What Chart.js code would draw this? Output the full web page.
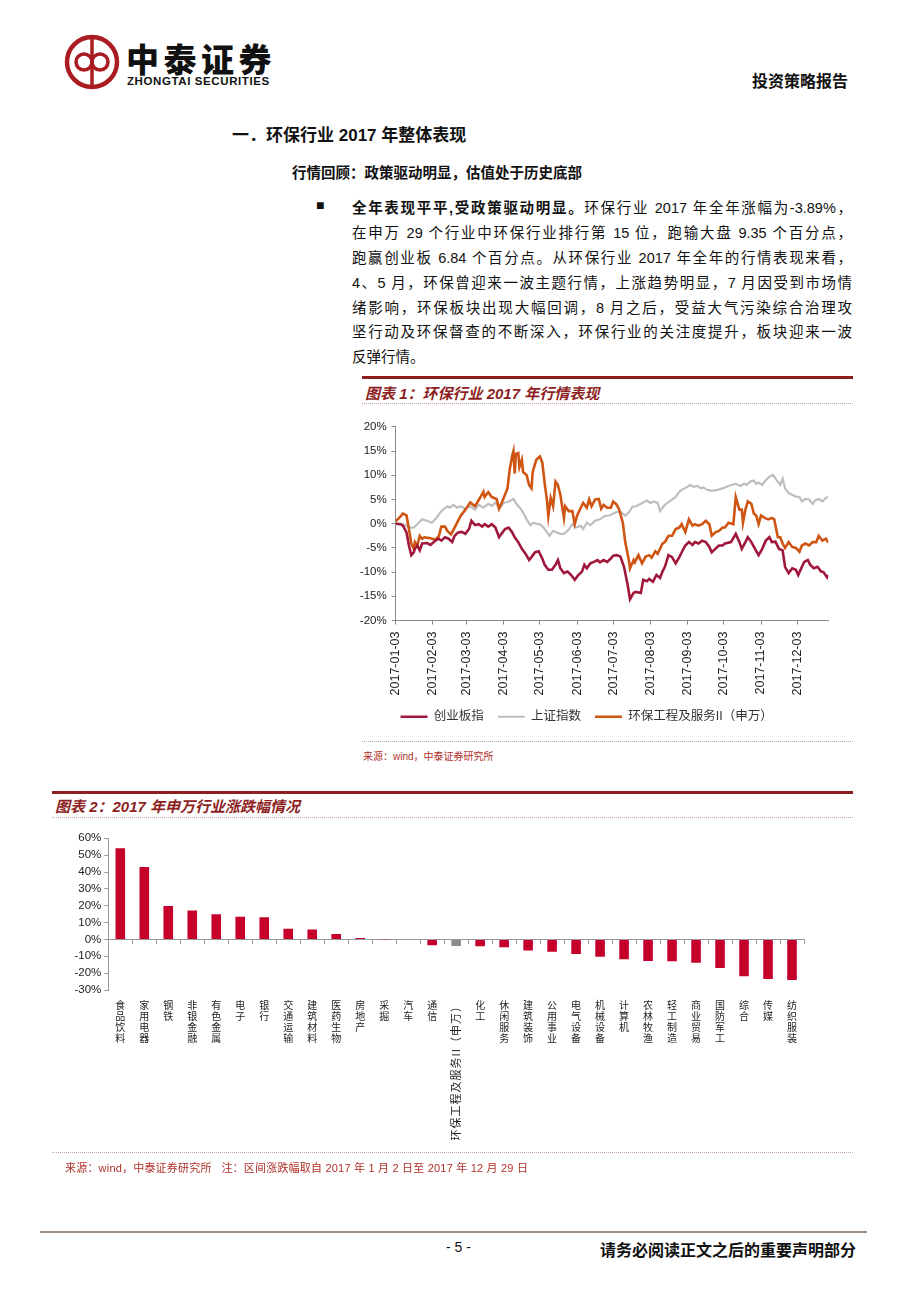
<!DOCTYPE html>
<html>
<head>
<meta charset="utf-8">
<script src="https://cdn.jsdelivr.net/npm/chart.js@4.4.1/dist/chart.umd.min.js"></script>
<style>
  html, body { margin: 0; padding: 0; background: #fff; }
  body { width: 920px; height: 1302px; position: relative; overflow: hidden;
         font-family: "Liberation Sans", "Noto Sans CJK SC", sans-serif; color: #111; }
  .abs { position: absolute; white-space: nowrap; }
  .rule { position: absolute; background: #8E1F1F; height: 2.5px; }
  .dots { position: absolute; border-top: 1px dotted #C9A3A3; height: 0; }
  .ctitle { position: absolute; font-size: 15px; font-weight: bold; font-style: italic; color: #8E1F1F; white-space: nowrap; }
  .src { position: absolute; font-size: 10px; color: #B0302A; white-space: nowrap; }
  .para { position: absolute; left: 352px; width: 500px; font-size: 14.5px; line-height: 20px;
          white-space: nowrap; text-align: justify; text-align-last: justify; }
  canvas { position: absolute; }
</style>
</head>
<body>

<!-- header -->
<svg class="abs" style="left:62px;top:32px" width="60" height="60" viewBox="0 0 60 60">
  <circle cx="30" cy="30" r="25" fill="none" stroke="#A81C22" stroke-width="4.5"/>
  <line x1="30" y1="7" x2="30" y2="53" stroke="#A81C22" stroke-width="3.5"/>
  <circle cx="22" cy="30" r="8" fill="none" stroke="#A81C22" stroke-width="3.5"/>
  <circle cx="38" cy="30" r="8" fill="none" stroke="#A81C22" stroke-width="3.5"/>
</svg>
<div class="abs" style="left:126px;top:34px;font-size:33px;font-weight:900;letter-spacing:4.5px;font-family:'Noto Sans CJK SC'">中泰证券</div>
<div class="abs" style="left:127px;top:75px;font-size:11.5px;font-weight:bold;letter-spacing:0.6px">ZHONGTAI SECURITIES</div>
<div class="abs" style="left:752px;top:68px;font-size:16px;font-weight:bold">投资策略报告</div>

<!-- section text -->
<div class="abs" style="left:232px;top:121px;font-size:17px;font-weight:bold">一．环保行业 2017 年整体表现</div>
<div class="abs" style="left:292px;top:161px;font-size:14.5px;font-weight:bold">行情回顾：政策驱动明显，估值处于历史底部</div>
<div class="abs" style="left:316px;top:197px;font-size:14px">■</div>
<div class="para" style="top:198px"><b>全年表现平平,受政策驱动明显。</b>环保行业 2017 年全年涨幅为-3.89%，</div>
<div class="para" style="top:223px">在申万 29 个行业中环保行业排行第 15 位，跑输大盘 9.35 个百分点，</div>
<div class="para" style="top:248px">跑赢创业板 6.84 个百分点。从环保行业 2017 年全年的行情表现来看，</div>
<div class="para" style="top:273px">4、5 月，环保曾迎来一波主题行情，上涨趋势明显，7 月因受到市场情</div>
<div class="para" style="top:298px">绪影响，环保板块出现大幅回调，8 月之后，受益大气污染综合治理攻</div>
<div class="para" style="top:322px">坚行动及环保督查的不断深入，环保行业的关注度提升，板块迎来一波</div>
<div class="para" style="top:347px;text-align-last:left">反弹行情。</div>

<!-- figure 1 -->
<div class="rule" style="left:362px;top:376px;width:491px"></div>
<div class="ctitle" style="left:365px;top:382px">图表 1：环保行业 2017 年行情表现</div>
<div class="dots" style="left:362px;top:403px;width:491px"></div>
<canvas id="c1" width="500" height="318" style="left:345px;top:415px"></canvas>
<div class="dots" style="left:362px;top:741px;width:491px"></div>
<div class="src" style="left:363px;top:748px">来源：wind，中泰证券研究所</div>

<!-- figure 2 -->
<div class="rule" style="left:52px;top:791px;width:801px"></div>
<div class="ctitle" style="left:55px;top:795px">图表 2：2017 年申万行业涨跌幅情况</div>
<div class="dots" style="left:52px;top:817px;width:801px"></div>
<canvas id="c2" width="830" height="340" style="left:40px;top:825px"></canvas>
<div class="dots" style="left:52px;top:1152px;width:801px"></div>
<div class="src" style="left:65px;top:1159px;font-size:11px;letter-spacing:0.2px">来源：wind，中泰证券研究所&nbsp;&nbsp;&nbsp;注：区间涨跌幅取自 2017 年 1 月 2 日至 2017 年 12 月 29 日</div>

<!-- footer -->
<div class="abs" style="left:40px;top:1231px;width:827px;height:1.5px;background:#9C8E80"></div>
<div class="abs" style="left:446px;top:1239px;font-size:14px">- 5 -</div>
<div class="abs" style="left:600px;top:1237px;font-size:16px;font-weight:bold">请务必阅读正文之后的重要声明部分</div>

<script>
var FONT = '"Liberation Sans", "Noto Sans CJK SC", sans-serif';

/* ── FIGURE 1 DATA: [day of year (Jan 1 = 0), % change] ── */
var tickDays = [2, 33, 61, 92, 122, 153, 183, 214, 245, 275, 306, 336];
var tickLabels = ['2017-01-03', '2017-02-03', '2017-03-03', '2017-04-03', '2017-05-03', '2017-06-03',
                  '2017-07-03', '2017-08-03', '2017-09-03', '2017-10-03', '2017-11-03', '2017-12-03'];

var chinextPts = [
  [2,0],[6,-0.1],[8,-0.4],[11,-1.8],[13,-4.5],[15,-6.5],[17,-5.9],[18,-5.2],[20,-4.5],[22,-5.5],
  [24,-4.1],[28,-4.0],[31,-4.4],[35,-3.5],[38,-3.1],[40,-3.5],[43,-2.8],[46,-3.1],[49,-3.8],[51,-2.5],
  [54,-1.8],[57,-1.7],[60,-2.1],[63,-1.1],[65,0.6],[68,-0.3],[71,-0.1],[74,-0.6],[76,-0.1],[79,-0.6],
  [82,-0.1],[85,-0.8],[88,-2.8],[90,-2.1],[93,-1.1],[96,-0.8],[99,-1.8],[101,-2.8],[104,-3.8],[107,-5.2],
  [110,-6.2],[113,-7.5],[115,-6.9],[118,-5.9],[121,-5.7],[124,-7.2],[126,-8.5],[129,-9.5],[132,-9.5],[135,-8.5],
  [137,-7.5],[139,-9.2],[142,-10.2],[145,-9.9],[148,-10.6],[151,-11.6],[154,-10.6],[157,-9.9],[159,-8.5],[161,-9.2],
  [164,-8.2],[167,-7.9],[170,-7.5],[172,-8.0],[175,-7.5],[178,-7.9],[181,-7.2],[183,-6.6],[186,-6.5],[189,-6.8],
  [192,-8.9],[195,-12.6],[197,-15.6],[200,-14.3],[202,-14.1],[206,-14.3],[208,-11.6],[211,-11.9],[213,-11.4],[216,-12.0],
  [219,-10.6],[222,-11.2],[224,-9.9],[226,-8.9],[229,-6.5],[232,-6.9],[235,-8.2],[238,-6.9],[240,-5.9],[243,-4.5],
  [246,-3.8],[249,-4.4],[251,-3.8],[254,-4.1],[257,-3.5],[260,-3.8],[263,-4.8],[265,-5.9],[268,-5.2],[271,-4.5],
  [274,-4.5],[276,-4.1],[281,-3.8],[285,-2.1],[288,-3.8],[290,-5.2],[293,-3.8],[295,-2.8],[298,-3.8],[301,-5.2],
  [304,-6.5],[307,-5.2],[310,-3.5],[313,-2.8],[315,-3.8],[318,-3.7],[321,-5.2],[324,-5.5],[326,-8.9],[329,-10.2],
  [332,-9.2],[335,-9.5],[337,-10.6],[340,-8.9],[342,-7.9],[345,-7.5],[347,-8.5],[350,-9.2],[353,-8.9],[356,-9.9],
  [358,-10.0],[361,-11.1],[362,-10.6]
];

var shIndexPts = [
  [2,0],[8,-0.1],[14,-0.8],[17,-0.8],[20,-0.1],[24,0.9],[28,0.6],[32,0.2],[36,1.2],[40,2.6],
  [45,3.6],[47,3.3],[50,3.9],[53,3.3],[56,3.6],[60,3.1],[64,3.6],[68,2.9],[71,3.9],[75,3.3],
  [79,4.1],[82,3.7],[85,4.4],[88,3.1],[92,4.3],[96,4.6],[100,5.1],[103,3.9],[106,3.1],[108,2.3],
  [111,0.9],[114,-0.3],[117,0.2],[120,-0.1],[122,-0.1],[125,-0.8],[128,-1.8],[130,-2.5],[133,-1.5],[136,-1.8],
  [139,-2.1],[142,-2.1],[146,-1.2],[149,-0.1],[152,-0.8],[156,-0.4],[158,-1.1],[161,0.2],[164,-0.3],[168,0.6],
  [172,0.9],[176,1.6],[180,1.7],[183,2.1],[188,2.6],[190,2.3],[193,1.7],[196,2.3],[199,3.5],[202,3.6],
  [206,4.1],[208,4.4],[211,4.8],[214,4.3],[217,4.6],[220,4.3],[222,2.6],[225,3.6],[227,4.1],[231,4.8],
  [235,5.5],[238,6.6],[240,7.0],[244,7.5],[247,8.0],[250,7.6],[253,7.8],[256,7.3],[258,7.5],[261,7.0],
  [265,6.8],[270,7.0],[274,7.3],[276,7.5],[281,8.0],[285,8.2],[289,7.8],[292,8.3],[294,8.0],[297,8.7],
  [300,8.9],[302,8.2],[304,8.5],[307,8.0],[310,9.0],[313,9.7],[316,10.1],[319,9.0],[322,8.0],[324,9.3],
  [326,7.3],[329,6.3],[332,6.0],[335,5.6],[338,5.5],[340,4.6],[343,5.1],[346,5.0],[349,4.1],[351,4.8],
  [354,5.1],[357,4.6],[360,5.3],[362,5.5]
];

var envPts = [
  [2,0.5],[6,1.5],[8,2.1],[11,1.7],[13,-1.1],[15,-4.1],[17,-5.2],[18,-3.8],[20,-4.5],[22,-2.5],
  [24,-3.1],[26,-2.8],[31,-3.0],[35,-3.3],[38,-2.5],[40,-0.6],[43,-0.6],[45,-1.5],[48,-2.2],[51,-0.8],
  [56,1.6],[60,2.9],[64,4.4],[68,3.6],[72,5.3],[75,6.6],[76,5.5],[79,6.5],[82,5.5],[86,5.1],
  [88,3.1],[91,4.8],[95,7.3],[97,11.4],[99,14.1],[100,15.0],[101,10.4],[102,14.4],[104,14.6],[105,11.7],
  [107,13.2],[108,10.7],[111,10.0],[113,8.0],[115,7.3],[116,10.7],[119,13.2],[122,13.9],[124,12.7],[126,8.3],
  [128,4.6],[129,1.6],[131,5.3],[133,3.6],[135,8.7],[137,8.0],[139,6.0],[142,1.2],[143,3.6],[146,2.6],
  [149,2.6],[151,-0.1],[153,1.7],[156,3.3],[158,4.3],[161,3.3],[163,5.0],[165,3.6],[168,5.0],[171,5.1],
  [173,3.1],[175,3.9],[178,3.3],[181,3.3],[183,4.6],[186,3.9],[188,2.9],[191,0.2],[193,-3.8],[196,-7.5],
  [197,-9.2],[200,-7.5],[201,-8.0],[204,-6.5],[207,-8.2],[210,-6.8],[213,-6.5],[215,-7.0],[218,-5.7],[220,-6.2],
  [224,-4.1],[226,-3.8],[229,-2.5],[232,-2.5],[235,-1.1],[238,-0.8],[240,-0.1],[243,-1.7],[246,0.9],[249,-0.4],
  [251,-0.1],[254,-0.4],[257,-0.1],[260,0.6],[263,-0.1],[265,-2.5],[268,-1.8],[271,-1.5],[274,-0.8],[276,-0.8],
  [279,0.2],[283,-0.1],[285,5.5],[288,2.9],[290,2.9],[291,0.2],[293,2.9],[295,4.6],[298,4.1],[300,2.1],
  [302,1.7],[304,-0.1],[306,1.7],[309,1.2],[312,0.9],[315,1.2],[317,0.9],[320,-2.8],[322,-2.8],[324,-4.1],
  [326,-5.0],[329,-3.8],[332,-4.8],[335,-5.0],[338,-5.8],[340,-4.5],[343,-4.1],[346,-4.5],[349,-3.8],[352,-3.8],
  [354,-2.5],[357,-3.5],[360,-3.1],[362,-3.9]
];

/* ── FIGURE 2 DATA ── */
var industries = ['食品饮料', '家用电器', '钢铁', '非银金融', '有色金属', '电子', '银行', '交通运输', '建筑材料',
  '医药生物', '房地产', '采掘', '汽车', '通信', '环保工程及服务II（申万）', '化工', '休闲服务', '建筑装饰',
  '公用事业', '电气设备', '机械设备', '计算机', '农林牧渔', '轻工制造', '商业贸易', '国防军工', '综合', '传媒', '纺织服装'];
var yearChange = [54.1, 43.0, 19.8, 17.2, 15.0, 13.4, 13.2, 6.3, 5.9,
  3.2, 0.8, -0.2, -0.4, -3.4, -3.89, -4.0, -4.6, -6.5,
  -7.3, -8.7, -10.3, -11.7, -12.8, -12.9, -13.9, -16.9, -21.8, -23.4, -24.0];
var highlight = '环保工程及服务II（申万）';

function toXY(pts) {
  return pts.map(function (p) { return { x: p[0], y: p[1] }; });
}

/* ── FIGURE 1 ── */
new Chart(document.getElementById('c1'), {
  type: 'line',
  data: {
    datasets: [
      { label: '创业板指', data: toXY(chinextPts), borderColor: '#A0173C', backgroundColor: '#A0173C',
        borderWidth: 2.6, pointRadius: 0, order: 0 },
      { label: '上证指数', data: toXY(shIndexPts), borderColor: '#BEBEBE', backgroundColor: '#BEBEBE',
        borderWidth: 2.2, pointRadius: 0, order: 2 },
      { label: '环保工程及服务II（申万）', data: toXY(envPts), borderColor: '#CF5512', backgroundColor: '#CF5512',
        borderWidth: 2.6, pointRadius: 0, order: 1 }
    ]
  },
  options: {
    animation: false, responsive: false,
    layout: { padding: { top: 10.7, right: 16.7, left: 0, bottom: 0 } },
    plugins: {
      tooltip: { enabled: false },
      legend: {
        position: 'bottom',
        labels: {
          usePointStyle: true, pointStyle: 'line', pointStyleWidth: 27, padding: 14,
          color: '#333', font: { size: 12.5, family: FONT },
          sort: function (a, b) { return a.datasetIndex - b.datasetIndex; }
        }
      }
    },
    scales: {
      x: {
        type: 'linear', min: 2, max: 362,
        afterBuildTicks: function (s) { s.ticks = tickDays.map(function (v) { return { value: v }; }); },
        afterFit: function (s) { s.height = 76; },   // labels are clipped to this box
        ticks: {
          autoSkip: false, minRotation: 90, maxRotation: 90, padding: 7, color: '#222',
          font: { size: 12.5, family: FONT },
          callback: function (v) { return tickLabels[tickDays.indexOf(v)]; }
        },
        grid: { drawOnChartArea: false, tickLength: 4, color: '#8a8a8a' },
        border: { color: '#8a8a8a' }
      },
      y: {
        min: -20, max: 20,
        afterFit: function (s) { s.width = 50.7; },
        ticks: { stepSize: 5, padding: 5, color: '#222', font: { size: 11.5, family: FONT },
                 callback: function (v) { return v + '%'; } },
        grid: { drawOnChartArea: false, tickLength: 4, color: '#8a8a8a' },
        border: { color: '#8a8a8a' }
      }
    }
  }
});

/* ── FIGURE 2 ── */
var industryLabels = {
  id: 'industryLabels',
  afterDraw: function (chart) {
    var ctx = chart.ctx, xs = chart.scales.x;
    var top = chart.chartArea.bottom + 10;
    ctx.save();
    ctx.fillStyle = '#222';
    industries.forEach(function (name, i) {
      var x = xs.getPixelForValue(i);
      if (name === highlight) {
        ctx.save();
        ctx.font = '11px "Noto Sans CJK SC"';
        ctx.letterSpacing = '1px';
        ctx.translate(x, top);
        ctx.rotate(-Math.PI / 2);
        ctx.textAlign = 'right';
        ctx.textBaseline = 'middle';
        ctx.fillText(name, 0, 0);
        ctx.restore();
      } else {
        ctx.font = '10px "Noto Sans CJK SC"';
        ctx.textAlign = 'center';
        ctx.textBaseline = 'top';
        name.split('').forEach(function (ch, k) { ctx.fillText(ch, x, top + k * 11); });
      }
    });
    ctx.restore();
  }
};

new Chart(document.getElementById('c2'), {
  type: 'bar',
  data: {
    labels: industries,
    datasets: [{
      data: yearChange,
      backgroundColor: industries.map(function (n) { return n === highlight ? '#8C8C8C' : '#C4002B'; }),
      barPercentage: 0.4, categoryPercentage: 1
    }]
  },
  options: {
    animation: false, responsive: false,
    layout: { padding: { top: 13.3, right: 66, bottom: 175, left: 0 } },
    plugins: { legend: { display: false }, tooltip: { enabled: false } },
    scales: {
      x: {
        position: { y: 0 },
        ticks: { display: false },
        grid: { drawOnChartArea: false, tickLength: 4, color: '#999', offset: true },
        border: { color: '#999' }
      },
      y: {
        min: -30, max: 60,
        afterFit: function (s) { s.width = 68.3; },
        ticks: { stepSize: 10, padding: 3, color: '#222', font: { size: 11.5, family: FONT },
                 callback: function (v) { return v + '%'; } },
        grid: { drawOnChartArea: false, tickLength: 4, color: '#999' },
        border: { color: '#999' }
      }
    }
  },
  plugins: [industryLabels]
});
</script>
</body>
</html>
